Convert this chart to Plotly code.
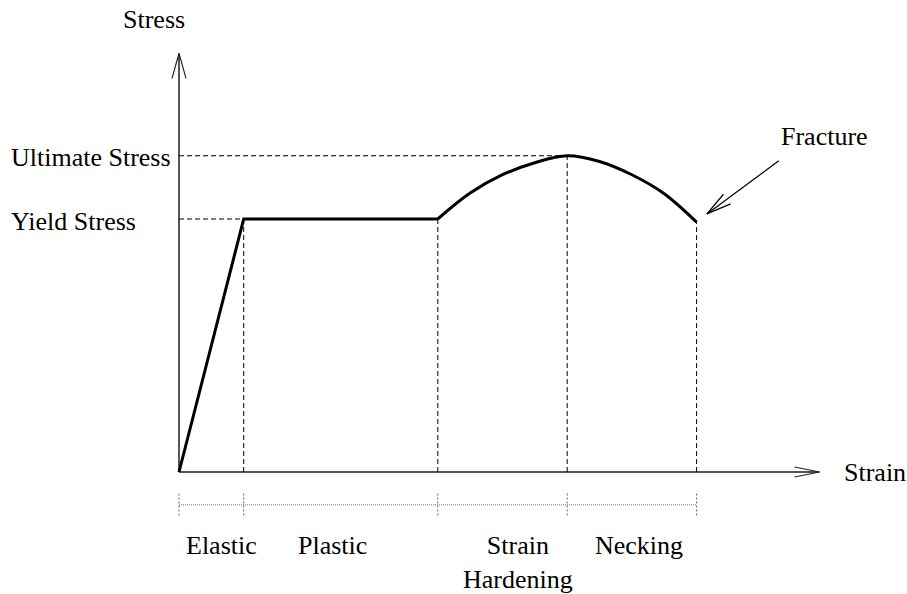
import plotly.graph_objects as go

# ---------------- data ----------------
strain_linear = [0, 1, 4]            # elastic line + yield plateau
stress_linear = [0, 400, 400]
strain_curve = [4, 4.5, 5, 5.5, 6, 6.5, 7, 7.5, 8]   # hardening + necking
stress_curve = [400, 441, 470, 489, 500, 491, 470, 440, 395]
yield_stress = 400
ultimate_stress = 500
yield_strain = 1
ultimate_strain = 6
boundary_strain = [0, 1, 4, 6, 8]
boundary_stress = [0, 400, 400, 500, 395]
region_labels = ["Elastic", "Plastic", "Strain<br>Hardening", "Necking"]
region_label_x = [0.66, 2.38, 5.24, 7.11]
axis_x_end = 9.9
axis_y_end = 662
band_y = -52          # dotted bracket below the strain axis
band_tick = 18
label_y = -90
fracture_label = (9.27, 531)
fracture_tail = (9.27, 492)
fracture_tip = (8.16, 408)

# ---------------- layout geometry ----------------
W, H = 907, 594
X_SCALE, Y_SCALE = 64.7, 0.6325      # pixels per data unit
X0 = -179 / X_SCALE
X1 = X0 + W / X_SCALE
Y1 = 472 / Y_SCALE
Y0 = Y1 - H / Y_SCALE


def to_px(x, y):
    return ((x - X0) / (X1 - X0) * W, (Y1 - y) / (Y1 - Y0) * H)


def to_data(px, py):
    return (X0 + px / W * (X1 - X0), Y1 - py / H * (Y1 - Y0))


def arrow_head(tip, tail, length=25, half=6):
    tx, ty = to_px(*tip)
    sx, sy = to_px(*tail)
    dx, dy = sx - tx, sy - ty
    n = (dx * dx + dy * dy) ** 0.5
    ux, uy = dx / n, dy / n
    nx, ny = -uy, ux
    a = to_data(tx + length * ux + half * nx, ty + length * uy + half * ny)
    b = to_data(tx + length * ux - half * nx, ty + length * uy - half * ny)
    return [a[0], tip[0], b[0]], [a[1], tip[1], b[1]]


FONT = "Liberation Serif, Times New Roman, DejaVu Serif, serif"
fig = go.Figure()


def line(xs, ys, color="black", width=1, dash="solid"):
    fig.add_trace(go.Scatter(x=xs, y=ys, mode="lines",
                             line=dict(color=color, width=width, dash=dash),
                             hoverinfo="skip", showlegend=False))


# axes
line([0, axis_x_end], [0, 0], color="#555555", width=2)
line([0, 0], [0, axis_y_end], color="#555555", width=2)
hx, hy = arrow_head((axis_x_end, 0), (0, 0), 25, 5)
line(hx, hy, color="#222222", width=1.2)
hx, hy = arrow_head((0, axis_y_end), (0, 0), 25, 7)
line(hx, hy, color="#222222", width=1.2)

# dashed guide lines
DASH = "5px,3px"
line([0, ultimate_strain], [ultimate_stress, ultimate_stress], dash=DASH)
line([0, yield_strain], [yield_stress, yield_stress], dash=DASH)
for xb, yb in zip(boundary_strain[1:], boundary_stress[1:]):
    line([xb, xb], [0, yb], dash=DASH)

# dotted bracket
line([boundary_strain[0], boundary_strain[-1]], [band_y, band_y],
     color="#666666", width=1, dash="1px,1px")
for xb in boundary_strain:
    line([xb, xb], [band_y + band_tick, band_y - band_tick],
         color="#666666", width=1, dash="2px,2px")

# stress-strain curve
line(strain_linear, stress_linear, color="black", width=3)
fig.add_trace(go.Scatter(x=strain_curve, y=stress_curve, mode="lines",
                         line=dict(color="black", width=3, shape="spline"),
                         hoverinfo="skip", showlegend=False))

# fracture arrow
line([fracture_tail[0], fracture_tip[0]], [fracture_tail[1], fracture_tip[1]],
     color="black", width=1.3)
hx, hy = arrow_head(fracture_tip, fracture_tail, 25, 6)
line(hx, hy, color="black", width=1.3)

ann = []


def text(t, x, y, xanchor="center", yanchor="middle", xshift=0, yshift=0):
    ann.append(dict(text=t, x=x, y=y, xref="x", yref="y", showarrow=False,
                    xanchor=xanchor, yanchor=yanchor, xshift=xshift,
                    yshift=yshift, align="center",
                    font=dict(family=FONT, size=26, color="black")))


text("Stress", 0, 718, xshift=-25, yshift=-2)
text("Strain", 10.25, 0, xanchor="left")
text("Ultimate Stress", 0, ultimate_stress, xanchor="left", xshift=-170, yshift=-2)
text("Yield Stress", 0, yield_stress, xanchor="left", xshift=-170, yshift=-2)
text("Fracture", fracture_label[0], fracture_label[1], xanchor="left")
for lab, lx in zip(region_labels, region_label_x):
    text(lab, lx, label_y, yanchor="top")

fig.update_layout(
    width=W, height=H, autosize=False,
    margin=dict(l=0, r=0, t=0, b=0),
    paper_bgcolor="white", plot_bgcolor="white",
    xaxis=dict(range=[X0, X1], visible=False, fixedrange=True),
    yaxis=dict(range=[Y0, Y1], visible=False, fixedrange=True),
    annotations=ann, showlegend=False,
)

fig.write_html("out.html", config={"displayModeBar": False},
               post_script="document.body.style.margin='0';")
